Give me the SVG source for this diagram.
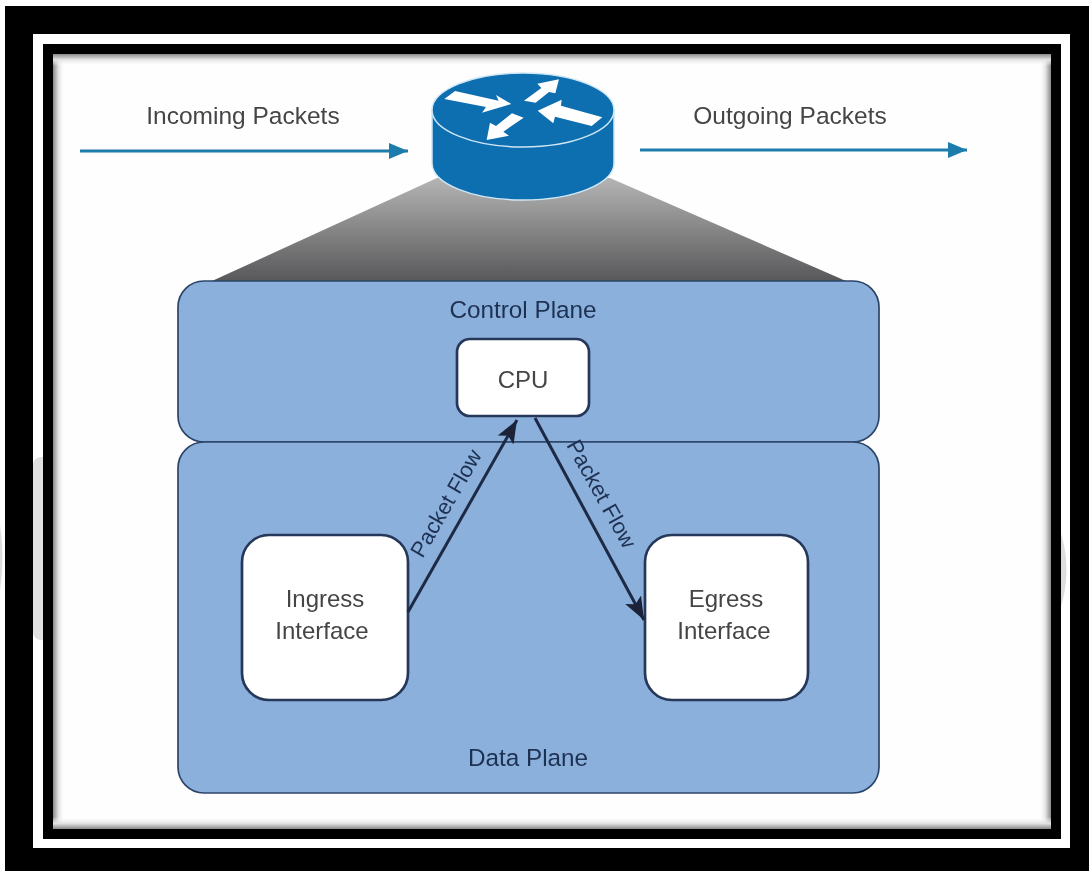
<svg xmlns="http://www.w3.org/2000/svg" width="1089" height="871" viewBox="0 0 1089 871">
<style>
text{font-family:"Liberation Sans",Arial,sans-serif;font-size:24px;text-anchor:middle}
.top{fill:#454547;font-size:24.5px}
.in{fill:#1f3153;font-size:24.3px}
.flowtext{fill:#1f3153;font-size:22px}
.box{fill:#454547}
.plane{fill:#8cb0dc;stroke:#2c4468;stroke-width:1.7}
.iface{fill:#fff;stroke:#26395a;stroke-width:2.7}
.blue{fill:none;stroke:#1f7bac;stroke-width:3;marker-end:url(#bh)}
.flow{fill:none;stroke:#1c2a45;stroke-width:3;marker-end:url(#dh)}
.glyph{fill:#fff}
</style>
<defs>
<marker id="bh" markerUnits="userSpaceOnUse" markerWidth="22" markerHeight="18" refX="20" refY="9" orient="auto"><path d="M1 1L20 9L1 17Z" fill="#1f7bac"/></marker>
<marker id="dh" markerUnits="userSpaceOnUse" markerWidth="26" markerHeight="20" refX="23" refY="10" orient="auto"><path d="M0 1L23 10L0 19L5 10Z" fill="#1c2238"/></marker>
<linearGradient id="cone" x1="0" y1="0" x2="0" y2="1"><stop offset="0" stop-color="#b4b4b4"/><stop offset="1" stop-color="#58585a"/></linearGradient>
<linearGradient id="sl" x1="0" x2="1" y1="0" y2="0"><stop offset="0" stop-color="#8a8a8a"/><stop offset=".45" stop-color="#e0e0e0"/><stop offset="1" stop-color="#fff" stop-opacity="0"/></linearGradient>
<linearGradient id="sr" x1="1" x2="0" y1="0" y2="0"><stop offset="0" stop-color="#8a8a8a"/><stop offset=".45" stop-color="#e0e0e0"/><stop offset="1" stop-color="#fff" stop-opacity="0"/></linearGradient>
<linearGradient id="st" x1="0" x2="0" y1="0" y2="1"><stop offset="0" stop-color="#8a8a8a"/><stop offset=".45" stop-color="#e0e0e0"/><stop offset="1" stop-color="#fff" stop-opacity="0"/></linearGradient>
<linearGradient id="sb" x1="0" x2="0" y1="1" y2="0"><stop offset="0" stop-color="#8a8a8a"/><stop offset=".45" stop-color="#e0e0e0"/><stop offset="1" stop-color="#fff" stop-opacity="0"/></linearGradient>
<filter id="soft" x="-5%" y="-5%" width="110%" height="110%"><feGaussianBlur stdDeviation="0.55"/></filter>
</defs>

<g id="frame">
<rect x="0" y="0" width="1089" height="871" fill="#000"/>
<rect x="0" y="0" width="1089" height="6" fill="#fff"/>
<rect x="0" y="0" width="5" height="871" fill="#fff"/>
<path d="M0 525Q5 557 0 590Z" fill="#ddd"/>
<rect x="33" y="34" width="1037" height="814" fill="#fff"/>
<rect x="33" y="457" width="20" height="183" rx="8" fill="#e0e0e0"/>
<path d="M1060 530Q1073 570 1060 610Z" fill="#ddd"/>
<rect x="43" y="44" width="1018" height="795" fill="#000"/>
<rect x="53" y="54" width="998" height="775" fill="#fefefe"/>
<rect x="53" y="54" width="12" height="775" fill="url(#sl)"/>
<rect x="1039" y="54" width="12" height="775" fill="url(#sr)"/>
<rect x="53" y="54" width="998" height="12" fill="url(#st)"/>
<rect x="53" y="817" width="998" height="12" fill="url(#sb)"/>
</g>

<g filter="url(#soft)">
<g id="cone-shape"><path d="M437 178L212 281H846L610 178Z" fill="url(#cone)"/></g>

<g id="control-plane">
<rect class="plane" x="178" y="281" width="701" height="161" rx="26"/>
<text class="in" x="523" y="318">Control Plane</text>
</g>
<g id="data-plane">
<rect class="plane" x="178" y="442" width="701" height="351" rx="26"/>
<text class="in" x="528" y="766">Data Plane</text>
</g>

<g id="router">
<path d="M432 110V163C432 184 473 200 523 200S614 184 614 163V110Z" fill="#0a6eb0" stroke="#cfe6f5" stroke-width="1.5"/>
<ellipse cx="523" cy="110" rx="91" ry="37" fill="#0a6eb0" stroke="#cfe6f5" stroke-width="1.5"/>
<g transform="translate(400 60) scale(.3333)">
<path class="glyph" d="M133 117L165 93L296 122L288 105L334 132L246 158L258 141Z"/>
<path class="glyph" d="M372 122L407 128L447 96L466 100L477 58L412 71L424 84Z"/>
<path class="glyph" d="M607 172L483 137L485 119L413 152L460 190L465 170L575 198Z"/>
<path class="glyph" d="M371 173L336 160L288 198L270 188L260 240L327 227L310 215Z"/>
</g>
</g>

<g id="cpu">
<rect class="iface" x="457" y="339" width="132" height="77" rx="13"/>
<text class="box" x="523" y="388">CPU</text>
</g>
<g id="ingress">
<rect class="iface" x="242" y="535" width="166" height="165" rx="27"/>
<text class="box" x="325" y="607">Ingress</text>
<text class="box" x="322" y="639">Interface</text>
</g>
<g id="egress">
<rect class="iface" x="645" y="535" width="163" height="165" rx="27"/>
<text class="box" x="726" y="607">Egress</text>
<text class="box" x="724" y="639">Interface</text>
</g>

<g id="labels">
<text class="top" x="243" y="124">Incoming Packets</text>
<text class="top" x="790" y="124">Outgoing Packets</text>
<text class="flowtext" transform="translate(452.500 507) rotate(-60)">Packet Flow</text>
<text class="flowtext" transform="translate(595 497.500) rotate(61)">Packet Flow</text>
</g>

<g id="connectors">
<path class="blue" d="M80 151H408"/>
<path class="blue" d="M640 150H967"/>
<path class="flow" d="M408 612L517 420"/>
<path class="flow" d="M535 418L644 620"/>
</g>
</g>
</svg>
